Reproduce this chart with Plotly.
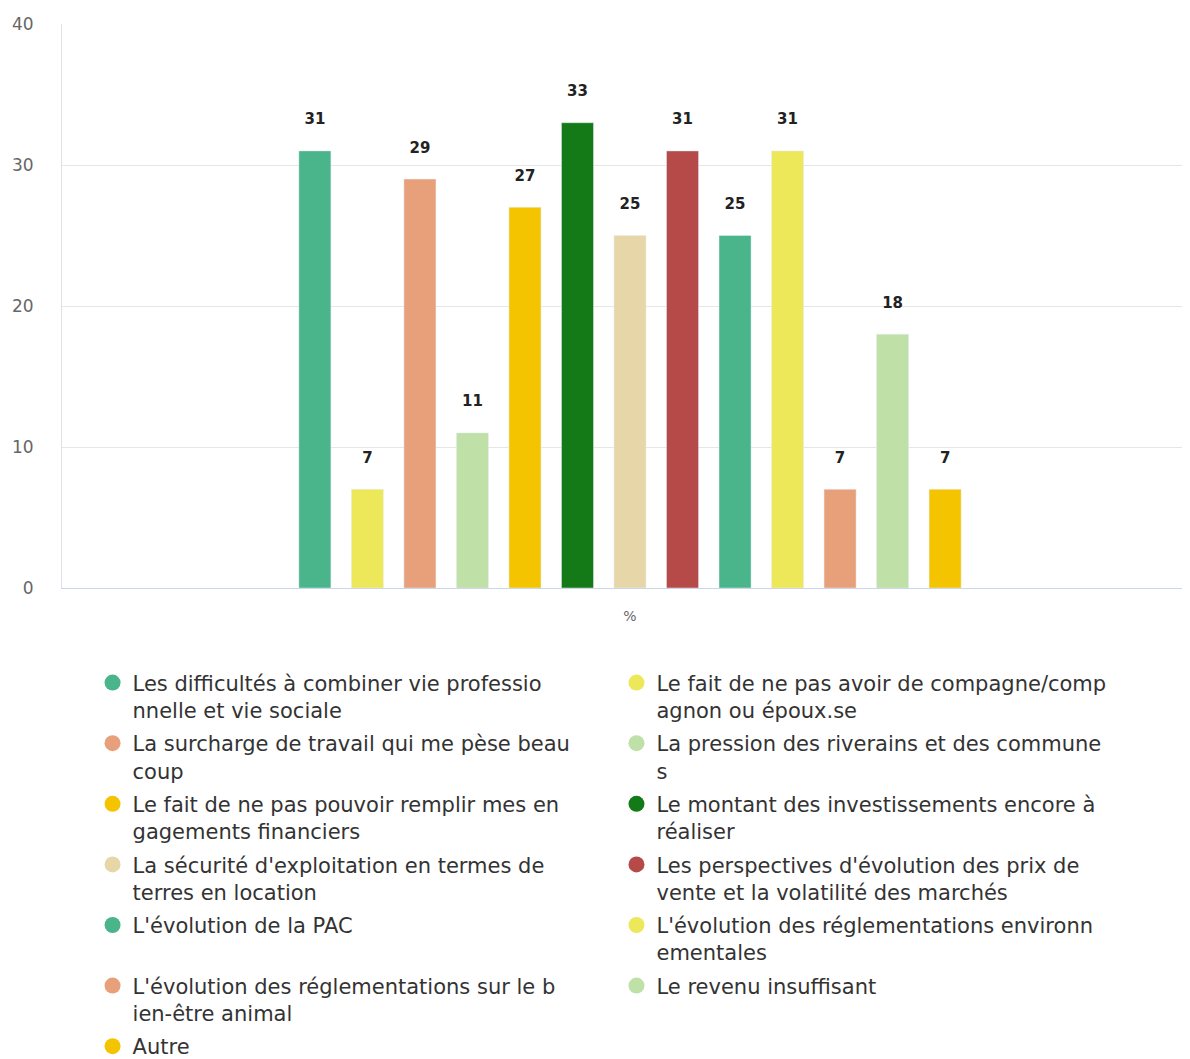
import plotly.graph_objects as go

# Survey answers (percent), one bar per answer, all in the "%" category
answers = [
    "Les difficultés à combiner vie professio<br>nnelle et vie sociale",
    "Le fait de ne pas avoir de compagne/comp<br>agnon ou époux.se",
    "La surcharge de travail qui me pèse beau<br>coup",
    "La pression des riverains et des commune<br>s",
    "Le fait de ne pas pouvoir remplir mes en<br>gagements financiers",
    "Le montant des investissements encore à<br>réaliser",
    "La sécurité d'exploitation en termes de<br>terres en location",
    "Les perspectives d'évolution des prix de<br>vente et la volatilité des marchés",
    "L'évolution de la PAC<br>&nbsp;",
    "L'évolution des réglementations environn<br>ementales",
    "L'évolution des réglementations sur le b<br>ien-être animal",
    "Le revenu insuffisant",
    "Autre",
]
values = [31, 7, 29, 11, 27, 33, 25, 31, 25, 31, 7, 18, 7]
category = ["%"]

colors = ["#4AB48A", "#EDE85A", "#E8A07A", "#BFE0A6", "#F5C400", "#137A17",
          "#E7D7A8", "#B54A48", "#4AB48A", "#EDE85A", "#E8A07A", "#BFE0A6", "#F5C400"]

fig = go.Figure()

for name, v, c in zip(answers, values, colors):
    fig.add_trace(go.Bar(
        x=category, y=[v], name=name, marker_color=c,
        # blank second line lifts the label a little above the bar
        text=[f"{v}<br>&nbsp;"], textposition="outside", cliponaxis=False,
        textfont=dict(size=15, color="#222222", family="DejaVu Sans", weight="bold"),
        showlegend=False,
    ))

# round legend markers in two columns: odd entries left, even entries right
for i, (name, c) in enumerate(zip(answers, colors)):
    fig.add_trace(go.Scatter(
        x=[None], y=[None], mode="markers", name=name,
        legend="legend" if i % 2 == 0 else "legend2",
        legendgroup=f"g{i}",
        marker=dict(symbol="circle", size=18, color=c),
    ))

leg = dict(
    orientation="v", xanchor="left", yanchor="top", valign="top",
    font=dict(size=21, color="#333333", family="DejaVu Sans"),
    tracegroupgap=3, bgcolor="rgba(0,0,0,0)",
)

fig.update_layout(
    width=1190, height=1059,
    margin=dict(l=54, r=0, t=16, b=479, autoexpand=False),
    paper_bgcolor="white", plot_bgcolor="white",
    barmode="group", bargap=0.399, bargroupgap=0.39,
    font=dict(family="DejaVu Sans", color="#333333"),
    showlegend=True,
    legend=dict(leg, x=0.0269, y=-0.132),
    legend2=dict(leg, x=0.4881, y=-0.132),
)

fig.update_yaxes(
    range=[0, 40], tickvals=[0, 10, 20, 30, 40],
    showgrid=True, gridcolor="#E6E6E6", zeroline=False,
    showline=True, linecolor="#E0E0EA", linewidth=1,
    tickfont=dict(size=17, color="#666666"), ticklabelstandoff=24,
)
fig.update_xaxes(
    showline=True, linecolor="#CCD6EB", linewidth=1,
    tickfont=dict(size=14, color="#666666"), ticklabelstandoff=15,
)

fig.write_html("out.html")
